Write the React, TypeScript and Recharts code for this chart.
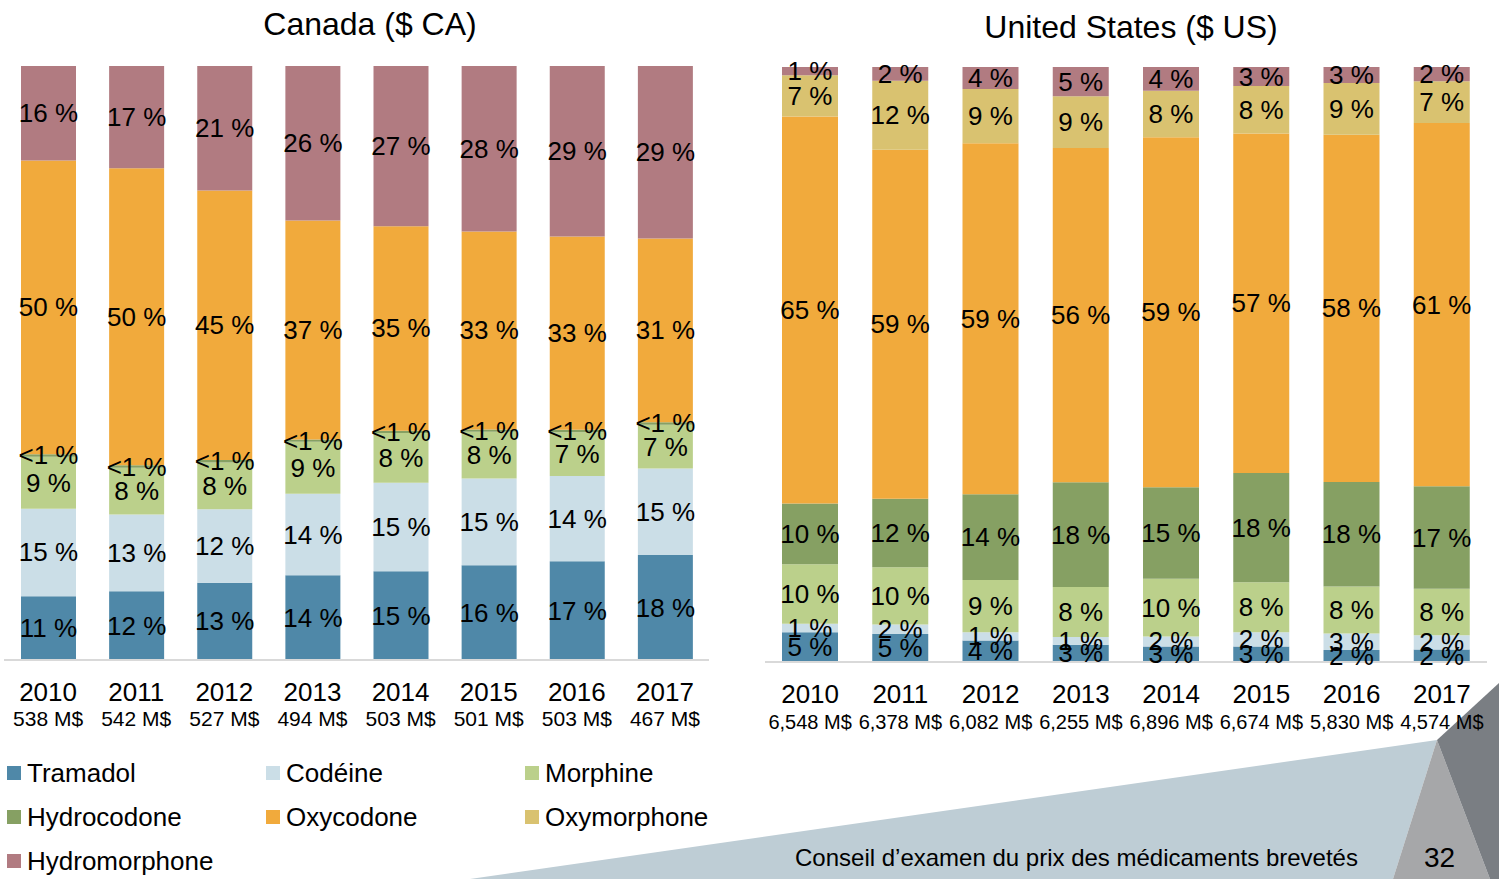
import React from 'react';
import { BarChart, Bar, XAxis, YAxis, LabelList } from 'recharts';

const FONT = '"Liberation Sans", Arial, sans-serif';

const years = ['2010', '2011', '2012', '2013', '2014', '2015', '2016', '2017'];
const caTotals = ['538 M$', '542 M$', '527 M$', '494 M$', '503 M$', '501 M$', '503 M$', '467 M$'];
const usTotals = ['6,548 M$', '6,378 M$', '6,082 M$', '6,255 M$', '6,896 M$', '6,674 M$', '5,830 M$', '4,574 M$'];

const seriesKeys = ['tramadol', 'codeine', 'morphine', 'hydrocodone', 'oxycodone', 'oxymorphone', 'hydromorphone'];
const seriesNames = ['Tramadol', 'Codéine', 'Morphine', 'Hydrocodone', 'Oxycodone', 'Oxymorphone', 'Hydromorphone'];
const seriesColors = ['#4F88A8', '#CBDEE7', '#BBD08B', '#86A063', '#F1AA3C', '#D9C270', '#B17B81'];

// Canada (% share)
const caTramadol = [10.8, 11.6, 13.0, 14.3, 15.0, 16.0, 16.7, 17.7];
const caCodeine = [14.8, 13.0, 12.4, 13.8, 15.0, 14.6, 14.4, 14.6];
const caMorphine = [8.8, 7.9, 7.9, 8.75, 8.4, 7.9, 7.4, 7.4];
const caHydrocodone = [0.4, 0.4, 0.4, 0.4, 0.4, 0.4, 0.4, 0.4];
const caOxycodone = [49.7, 50.2, 45.4, 37.0, 34.6, 33.4, 32.7, 31.0];
const caOxymorphone = [0, 0, 0, 0, 0, 0, 0, 0];
const caHydromorphone = [16.0, 17.3, 21.0, 26.1, 27.1, 27.9, 28.8, 29.1];

// United States (% share)
const usTramadol = [5.0, 4.7, 3.6, 2.9, 2.6, 2.6, 2.0, 2.1];
const usCodeine = [1.4, 1.6, 1.4, 1.3, 1.7, 2.4, 2.8, 2.4];
const usMorphine = [10.0, 9.6, 8.8, 8.4, 9.7, 8.4, 7.9, 7.8];
const usHydrocodone = [10.2, 11.5, 14.4, 17.6, 15.4, 18.4, 17.6, 17.2];
const usOxycodone = [64.9, 58.6, 59.0, 56.1, 58.9, 57.1, 58.4, 61.0];
const usOxymorphone = [6.9, 11.6, 9.1, 8.7, 7.8, 8.0, 8.7, 7.0];
const usHydromorphone = [1.4, 2.3, 3.7, 4.9, 4.0, 3.2, 2.7, 2.4];

const caSeries = [caTramadol, caCodeine, caMorphine, caHydrocodone, caOxycodone, caOxymorphone, caHydromorphone];
const usSeries = [usTramadol, usCodeine, usMorphine, usHydrocodone, usOxycodone, usOxymorphone, usHydromorphone];

const buildData = (series: number[][]) =>
  years.map((year, i) => {
    const row: Record<string, any> = { year };
    seriesKeys.forEach((k, s) => {
      row[k] = series[s][i];
    });
    return row;
  });

const caData = buildData(caSeries);
const usData = buildData(usSeries);

const makeLabel = (vals: number[]) => (props: any) => {
  const { x, y, width, height, index } = props;
  const v = vals[index];
  if (!v) return null;
  const text = v < 1 ? '<1 %' : `${Math.round(v)} %`;
  return (
    <text
      x={Number(x) + Number(width) / 2}
      y={Number(y) + Number(height) / 2}
      textAnchor="middle"
      dominantBaseline="central"
      fontSize={26}
      fontFamily={FONT}
      fill="#000"
    >
      {text}
    </text>
  );
};

const makeTick = (totals: string[], subSize: number, dy1: number, dy2: number) => (props: any) => {
  const { x, y, payload } = props;
  const i = years.indexOf(String(payload.value));
  return (
    <g>
      <text x={x} y={y + dy1} textAnchor="middle" fontSize={26} fontFamily={FONT} fill="#000">
        {payload.value}
      </text>
      <text x={x} y={y + dy2} textAnchor="middle" fontSize={subSize} fontFamily={FONT} fill="#000">
        {totals[i]}
      </text>
    </g>
  );
};

const renderChart = (
  data: any[],
  series: number[][],
  totals: string[],
  width: number,
  margin: any,
  barSize: number,
  subSize: number,
  dy1: number,
  dy2: number
) => (
  <BarChart width={width} height={760} data={data} margin={margin} stackOffset="expand">
    <XAxis
      dataKey="year"
      height={60}
      tickLine={false}
      axisLine={{ stroke: '#D9D9D9', strokeWidth: 2 }}
      interval={0}
      tick={makeTick(totals, subSize, dy1, dy2)}
    />
    <YAxis hide domain={[0, 1]} />
    {seriesKeys.map((k, s) => (
      <Bar
        key={k}
        dataKey={k}
        stackId="a"
        fill={seriesColors[s]}
        barSize={barSize}
        isAnimationActive={false}
      >
        <LabelList dataKey={k} content={makeLabel(series[s])} />
      </Bar>
    ))}
  </BarChart>
);

export default function App() {
  return (
    <div
      style={{
        position: 'absolute',
        left: 0,
        top: 0,
        width: 1499,
        height: 879,
        background: '#fff',
        overflow: 'hidden',
        fontFamily: FONT,
      }}
    >
      <svg width={1499} height={879} style={{ position: 'absolute', left: 0, top: 0 }}>
        <polygon points="470,879 1437,740 1393,879" fill="#BECDD5" />
        <polygon points="1437,740 1393,879 1490,879" fill="#A6A7A9" />
        <polygon points="1499,683 1437,740 1490,879 1499,879" fill="#7A7E83" />
      </svg>

      <div
        style={{
          position: 'absolute',
          left: 170,
          width: 400,
          top: 4,
          textAlign: 'center',
          fontSize: 32,
          lineHeight: '40px',
          color: '#000',
        }}
      >
        Canada ($ CA)
      </div>
      <div
        style={{
          position: 'absolute',
          left: 931,
          width: 400,
          top: 7,
          textAlign: 'center',
          fontSize: 32,
          lineHeight: '40px',
          color: '#000',
        }}
      >
        United States ($ US)
      </div>

      <div style={{ position: 'absolute', left: 0, top: 0 }}>
        {renderChart(caData, caSeries, caTotals, 720, { top: 66, right: 11, bottom: 40, left: 4 }, 55, 21, 33, 58)}
      </div>
      <div style={{ position: 'absolute', left: 750, top: 0 }}>
        {renderChart(usData, usSeries, usTotals, 749, { top: 67, right: 12, bottom: 38, left: 15 }, 56, 20, 33, 59)}
      </div>

      {seriesNames.map((name, s) => {
        const col = s % 3;
        const row = Math.floor(s / 3);
        return (
          <div
            key={name}
            style={{
              position: 'absolute',
              left: 7 + col * 259,
              top: 757 + row * 44,
              height: 32,
              display: 'flex',
              alignItems: 'center',
              fontSize: 26,
              color: '#000',
              whiteSpace: 'nowrap',
            }}
          >
            <span
              style={{
                display: 'inline-block',
                width: 14,
                height: 14,
                background: seriesColors[s],
                marginRight: 6,
              }}
            />
            {name}
          </div>
        );
      })}

      <div
        style={{
          position: 'absolute',
          left: 795,
          top: 844,
          fontSize: 24,
          lineHeight: '28px',
          color: '#000',
          whiteSpace: 'nowrap',
        }}
      >
        Conseil d’examen du prix des médicaments brevetés
      </div>
      <div
        style={{
          position: 'absolute',
          left: 1424,
          top: 842,
          fontSize: 28,
          lineHeight: '32px',
          color: '#000',
        }}
      >
        32
      </div>
    </div>
  );
}
